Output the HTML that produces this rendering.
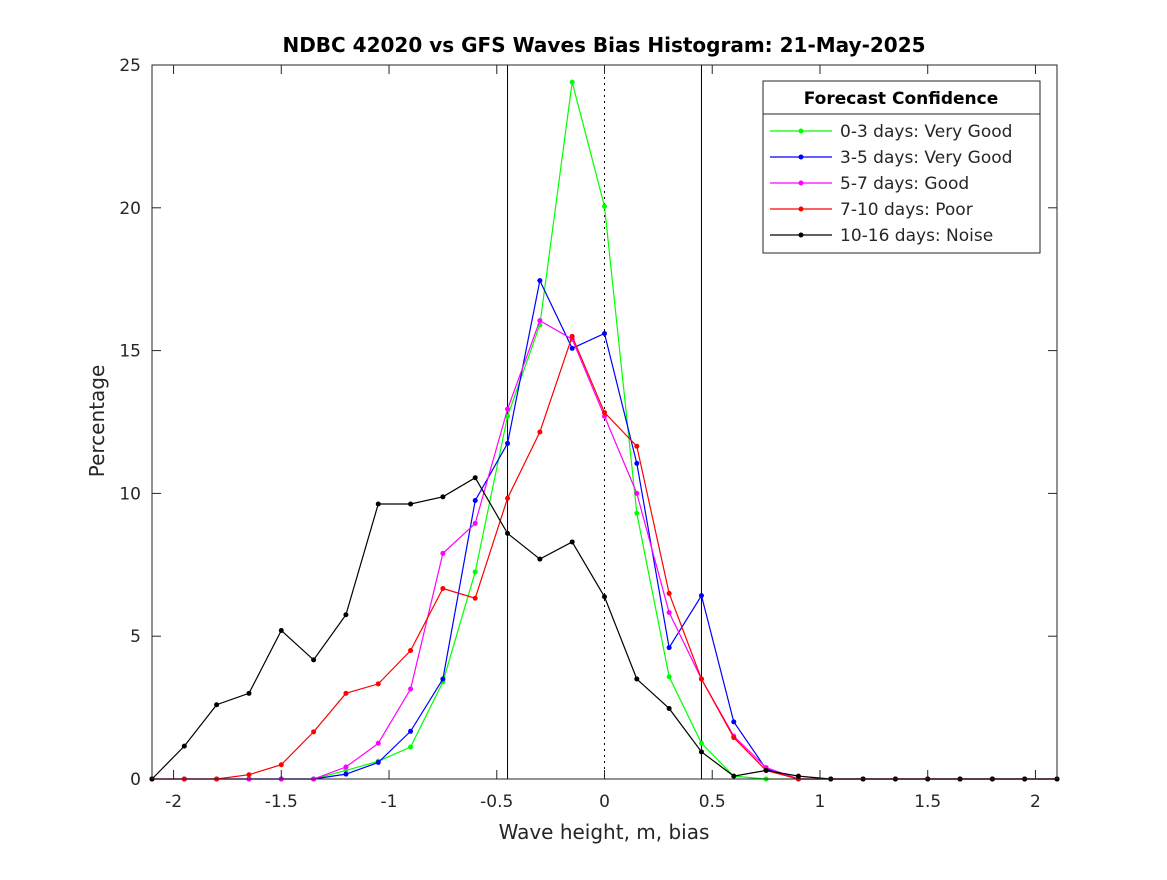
<!DOCTYPE html>
<html><head><meta charset="utf-8"><style>
body{margin:0;background:#fff}
svg text{font-family:"DejaVu Sans","Liberation Sans",sans-serif;fill:#262626}
</style></head><body>
<svg id="c" width="1167" height="875" xmlns="http://www.w3.org/2000/svg"></svg>
<script>
const xs=[-2.1,-1.95,-1.8,-1.65,-1.5,-1.35,-1.2,-1.05,-0.9,-0.75,-0.6,-0.45,-0.3,-0.15,0,0.15,0.3,0.45,0.6,0.75,0.9,1.05,1.2,1.35,1.5,1.65,1.8,1.95,2.1];
const green=[0,0,0,0,0,0,0.3,0.62,1.12,3.4,7.25,12.7,15.9,24.4,20.05,9.3,3.58,1.25,0.1,0,0,0,0,0,0,0,0,0,0];
const blue=[0,0,0,0,0,0,0.17,0.58,1.67,3.5,9.75,11.75,17.45,15.08,15.6,11.05,4.6,6.42,2.0,0.35,0,0,0,0,0,0,0,0,0];
const magenta=[0,0,0,0,0,0,0.42,1.25,3.15,7.9,8.95,12.95,16.05,15.4,12.7,10.0,5.83,3.5,1.5,0.4,0,0,0,0,0,0,0,0,0];
const red=[0,0,0,0.15,0.5,1.65,3.0,3.33,4.5,6.67,6.33,9.83,12.15,15.5,12.83,11.65,6.5,3.5,1.45,0.3,0,0,0,0,0,0,0,0,0];
const black=[0,1.15,2.6,3.0,5.2,4.17,5.75,9.63,9.63,9.88,10.55,8.6,7.7,8.3,6.38,3.5,2.47,0.95,0.1,0.3,0.1,0,0,0,0,0,0,0,0];
const xTicks=[-2,-1.5,-1,-0.5,0,0.5,1,1.5,2];
const xTickLabels=["-2","-1.5","-1","-0.5","0","0.5","1","1.5","2"];
const yTicks=[0,5,10,15,20,25];
const seriesNames=["0-3 days: Very Good","3-5 days: Very Good","5-7 days: Good","7-10 days: Poor","10-16 days: Noise"];
const seriesColors=["#00ff00","#0000ff","#ff00ff","#ff0000","#000000"];
const seriesData=[green,blue,magenta,red,black];
const seriesKeys=["green","blue","magenta","red","black"];
const refLines=[-0.45,0,0.45];

const L=152,R=1057,T=65,B=779;
const sx=v=>L+(v+2.1)/4.2*(R-L);
const sy=v=>B-v/25*(B-T);
const svg=document.getElementById('c');
const NS="http://www.w3.org/2000/svg";
function mk(tag,attrs,parent){const e=document.createElementNS(NS,tag);for(const k in attrs)e.setAttribute(k,attrs[k]);(parent||svg).appendChild(e);return e;}

const bg=mk('rect',{x:L,y:T,width:R-L,height:B-T,fill:'#fff',stroke:'none'});



refLines.forEach(v=>{
  const l=mk('line',{x1:sx(v),x2:sx(v),y1:T,y2:B,stroke:'#000','stroke-width':1});
  if(v===0)l.setAttribute('stroke-dasharray','2,4');
  
  
});

seriesData.forEach((d,i)=>{
  const g=mk('g',{});
  
  
  const pts=d.map((v,j)=>sx(xs[j])+','+sy(v)).join(' ');
  mk('polyline',{points:pts,fill:'none',stroke:seriesColors[i],'stroke-width':1.2},g);
  d.forEach((v,j)=>{
    const c=mk('circle',{cx:sx(xs[j]),cy:sy(v),r:2.5,fill:seriesColors[i]},g);
    
    
  });
});

const frame=mk('rect',{x:L,y:T,width:R-L,height:B-T,fill:'none',stroke:'#262626','stroke-width':1});



xTicks.forEach((v,i)=>{
  const x=sx(v);
  mk('line',{x1:x,x2:x,y1:B,y2:B-9,stroke:'#262626'});
  mk('line',{x1:x,x2:x,y1:T,y2:T+9,stroke:'#262626'});
  const t=mk('text',{x:x,y:807,'text-anchor':'middle','font-size':17});
  t.textContent=xTickLabels[i];
  
  
});
yTicks.forEach(v=>{
  const y=sy(v);
  mk('line',{x1:L,x2:L+9,y1:y,y2:y,stroke:'#262626'});
  mk('line',{x1:R,x2:R-9,y1:y,y2:y,stroke:'#262626'});
  const t=mk('text',{x:141,y:y+6,'text-anchor':'end','font-size':17});
  t.textContent=String(v);
  
  
});

const title=mk('text',{x:604,y:52,'text-anchor':'middle','font-size':20,'font-weight':'bold'});
title.textContent='NDBC 42020 vs GFS Waves Bias Histogram: 21-May-2025';


title.style.fill='#000';

const xl=mk('text',{x:604,y:839,'text-anchor':'middle','font-size':20});
xl.textContent='Wave height, m, bias';



const yl=mk('text',{x:104,y:421,'text-anchor':'middle','font-size':20,transform:'rotate(-90 104 421)'});
yl.textContent='Percentage';



const lg=mk('g',{});


mk('rect',{x:763,y:81,width:277,height:172,fill:'#fff',stroke:'#262626'},lg);
mk('line',{x1:763,x2:1040,y1:114,y2:114,stroke:'#262626'},lg);
const lt=mk('text',{x:901,y:104,'text-anchor':'middle','font-size':17,'font-weight':'bold'},lg);
lt.textContent='Forecast Confidence';
lt.style.fill='#000';


seriesNames.forEach((n,i)=>{
  const y=131+i*26;
  const e=mk('g',{},lg);
  
  
  mk('line',{x1:770,x2:832,y1:y,y2:y,stroke:seriesColors[i],'stroke-width':1.2},e);
  mk('circle',{cx:801,cy:y,r:2.5,fill:seriesColors[i]},e);
  const t=mk('text',{x:840,y:y+6,'font-size':17},e);
  t.textContent=n;
});
</script>
</body></html>
